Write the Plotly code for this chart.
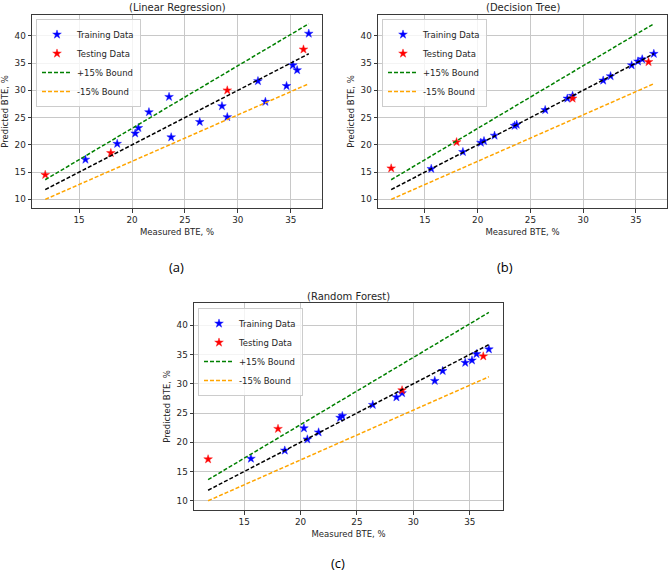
import plotly.graph_objects as go

# ---------------- data ----------------
measured_train = [15.6, 18.6, 20.3, 20.6, 21.6, 23.5, 23.7, 26.4, 28.5, 29.0,
                  31.9, 32.6, 34.6, 35.2, 35.6, 36.7]
measured_test = [11.8, 18.0, 29.0, 36.2]

lr_train_pred = [17.3, 20.2, 22.1, 23.1, 26.0, 28.8, 21.4, 24.2, 27.1, 25.1,
                 31.7, 27.9, 30.8, 34.6, 33.7, 40.4]
lr_test_pred = [14.5, 18.5, 30.0, 37.5]

dt_train_pred = [15.6, 18.7, 20.4, 20.7, 21.7, 23.5, 23.7, 26.4, 28.5, 29.0,
                 31.8, 32.6, 34.6, 35.3, 35.7, 36.7]
dt_test_pred = [15.7, 20.5, 28.5, 35.2]

rf_train_pred = [17.2, 18.6, 22.4, 20.5, 21.7, 24.2, 24.5, 26.4, 27.7, 28.4,
                 30.5, 32.2, 33.6, 34.0, 35.1, 35.9]
rf_test_pred = [17.1, 22.3, 28.9, 34.7]

line_x = [11.8, 36.7]
ideal_y = [11.8, 36.7]
upper_y = [13.6, 42.2]
lower_y = [10.0, 31.2]

x_ticks = [15, 20, 25, 30, 35]
y_ticks = [10, 15, 20, 25, 30, 35, 40]

titles = ["(Linear Regression)", "(Decision Tree)", "(Random Forest)"]
captions = ["(a)", "(b)", "(c)"]
models = [(lr_train_pred, lr_test_pred), (dt_train_pred, dt_test_pred),
          (rf_train_pred, rf_test_pred)]

# ---------------- layout geometry (pixels) ----------------
W, H = 669, 575
boxes = [(32, 322, 15, 208), (378, 667, 15, 208), (194, 503, 303, 510)]  # l, r, t, b
legend_pos = [(36, 19), (382, 19), (198, 308)]
caption_pos = [(176, 267), (505, 267), (338, 563)]

FONT = "DejaVu Sans"
TXT = "#262626"

fig = go.Figure()
annotations = []
layout = dict(width=W, height=H, autosize=False,
              margin=dict(l=0, r=0, t=0, b=0),
              paper_bgcolor="white", plot_bgcolor="white",
              font=dict(family=FONT, size=8.5, color=TXT),
              showlegend=True)

for i, ((tr, te), (l, r, t, b)) in enumerate(zip(models, boxes)):
    sfx = "" if i == 0 else str(i + 1)
    xa, ya = "x" + sfx, "y" + sfx
    leg = "legend" + sfx
    fig.add_trace(go.Scatter(x=measured_train, y=tr, mode="markers", name="Training Data",
                             xaxis=xa, yaxis=ya, legend=leg,
                             marker=dict(symbol="star", size=6.5, color="#0000ff",
                                         line=dict(width=0.5, color="#2020ff"))))
    fig.add_trace(go.Scatter(x=measured_test, y=te, mode="markers", name="Testing Data",
                             xaxis=xa, yaxis=ya, legend=leg,
                             marker=dict(symbol="star", size=6.5, color="#ff0000",
                                         line=dict(width=0.5, color="#ff2020"))))
    fig.add_trace(go.Scatter(x=line_x, y=upper_y, mode="lines", name="+15% Bound",
                             xaxis=xa, yaxis=ya, legend=leg,
                             line=dict(color="#008000", width=1.5, dash="4px,2px")))
    fig.add_trace(go.Scatter(x=line_x, y=lower_y, mode="lines", name="-15% Bound",
                             xaxis=xa, yaxis=ya, legend=leg,
                             line=dict(color="#ffa500", width=1.5, dash="4px,2px")))
    fig.add_trace(go.Scatter(x=line_x, y=ideal_y, mode="lines", name="Ideal",
                             xaxis=xa, yaxis=ya, showlegend=False,
                             line=dict(color="black", width=1.5, dash="4px,2px")))

    axis_common = dict(showgrid=True, gridcolor="#c8c8c8", gridwidth=1,
                       showline=True, mirror=True, linecolor="#3a3a3a", linewidth=1,
                       ticks="outside", ticklen=3.5, tickwidth=0.8, tickcolor="#3a3a3a",
                       zeroline=False, tickfont=dict(family=FONT, size=8.8, color=TXT))
    layout["xaxis" + sfx] = dict(axis_common, domain=[l / W, r / W], anchor=ya,
                                 range=[10.55, 37.95], tickvals=x_ticks,
                                 title=dict(text="Measured BTE, %", standoff=4,
                                            font=dict(family=FONT, size=8.5, color=TXT)))
    layout["yaxis" + sfx] = dict(axis_common, domain=[1 - b / H, 1 - t / H], anchor=xa,
                                 range=[8.42, 43.81], tickvals=y_ticks,
                                 title=dict(text="Predicted BTE, %", standoff=4,
                                            font=dict(family=FONT, size=8.5, color=TXT)))
    lx, ly = legend_pos[i]
    layout[leg] = dict(x=lx / W, y=1 - ly / H, xanchor="left", yanchor="top",
                       bgcolor="rgba(255,255,255,0.8)", bordercolor="#cccccc",
                       borderwidth=1, itemwidth=30,
                       font=dict(family=FONT, size=8.5, color=TXT))
    annotations.append(dict(text=titles[i], x=(l + r) / 2 / W, y=1 - (t - 7) / H,
                            xref="paper", yref="paper", xanchor="center", yanchor="middle",
                            showarrow=False, font=dict(family=FONT, size=10, color=TXT)))
    cx, cy = caption_pos[i]
    annotations.append(dict(text=captions[i], x=cx / W, y=1 - cy / H,
                            xref="paper", yref="paper", xanchor="center", yanchor="middle",
                            showarrow=False, font=dict(family="Open Sans", size=13, color="black")))

layout["annotations"] = annotations
fig.update_layout(**layout)
fig.write_html("out.html")
